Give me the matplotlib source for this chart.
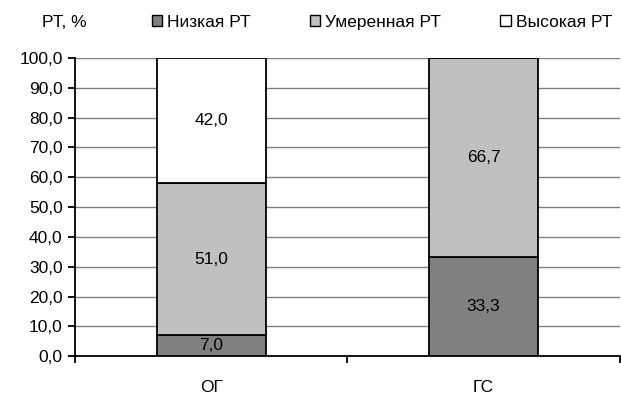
import matplotlib.pyplot as plt
from matplotlib.patches import Patch
import numpy as np

plt.rcParams['font.family'] = ['Liberation Sans', 'DejaVu Sans']

groups = ['ОГ', 'ГС']
low = [7.0, 33.3]
moderate = [51.0, 66.7]
high = [42.0, 0.0]
series_names = ['Низкая РТ', 'Умеренная РТ', 'Высокая РТ']
colors = ['#808080', '#c0c0c0', '#ffffff']

fs = 12.5

fig = plt.figure(figsize=(6.21, 3.94), dpi=100)
ax = fig.add_axes([0.121, 0.096, 0.877, 0.757])

x = np.arange(len(groups))
w = 0.4
bottom = np.zeros(len(groups))
for vals, c in zip([low, moderate, high], colors):
    vals = np.array(vals)
    ax.bar(x, vals, w, bottom=bottom, color=c, edgecolor='black',
           linewidth=1.3, zorder=3)
    for xi, b, v in zip(x, bottom, vals):
        if v > 0:
            ax.text(xi, b + v / 2, f'{v:.1f}'.replace('.', ','), ha='center',
                    va='center', fontsize=fs, zorder=4)
    bottom += vals

ax.set_xlim(-0.5, 1.5)
ax.set_ylim(0, 100)
ax.set_yticks(np.arange(0, 101, 10))
ax.set_yticklabels([f'{v:.1f}'.replace('.', ',') for v in np.arange(0, 101, 10)],
                   fontsize=fs)
ax.yaxis.grid(True, color='#808080', linewidth=1, zorder=0)
ax.set_axisbelow(True)

ax.set_xticks(x)
ax.set_xticklabels(groups, fontsize=fs)
ax.tick_params(axis='x', which='major', length=0, pad=17)
ax.set_xticks([-0.5, 0.5, 1.5], minor=True)
ax.tick_params(axis='x', which='minor', length=5, width=1.3, direction='out')
ax.tick_params(axis='y', length=5, width=1.3, direction='out', pad=4)

for s in ['top', 'right']:
    ax.spines[s].set_visible(False)
ax.spines['left'].set_linewidth(1.3)
ax.spines['bottom'].set_linewidth(1.3)

fig.text(0.068, 0.944, 'РТ, %', fontsize=fs, va='center')
handles = [Patch(facecolor=c, edgecolor='black', linewidth=1) for c in colors]
fig.legend(handles, series_names, loc='center', bbox_to_anchor=(0.615, 0.944),
           ncol=3, frameon=False, fontsize=fs, handlelength=0.6,
           handleheight=0.6, handletextpad=0.3, columnspacing=3.4,
           borderpad=0, borderaxespad=0)

fig.savefig('out.png', dpi=100)
